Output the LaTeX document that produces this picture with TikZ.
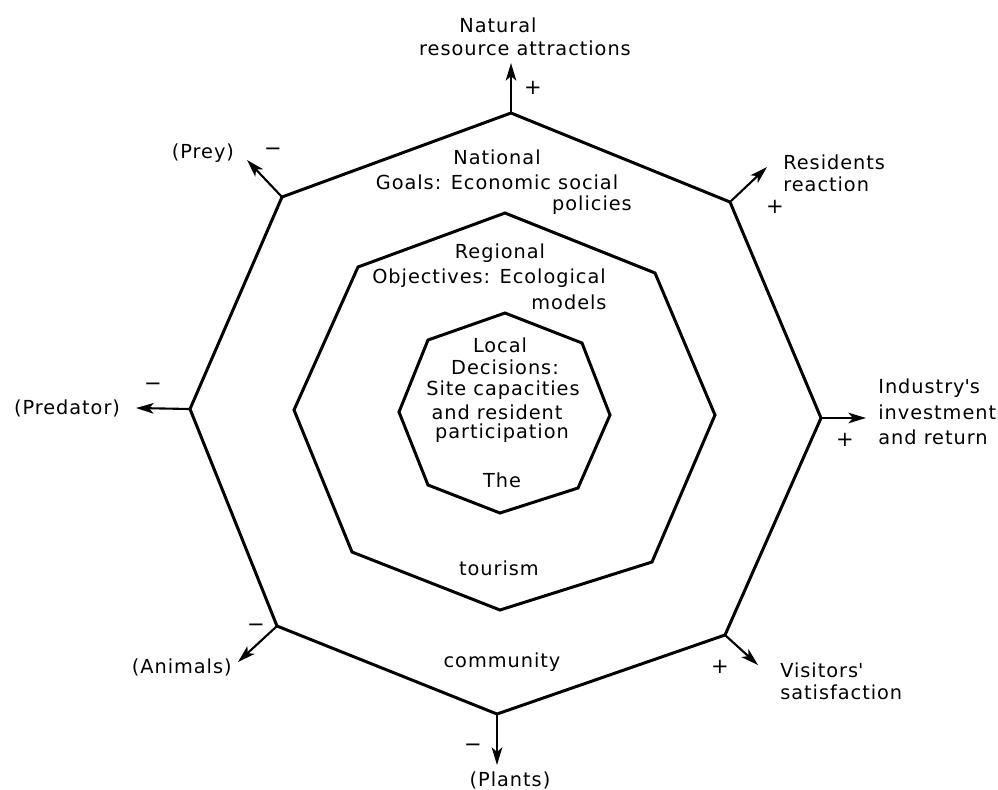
\documentclass[tikz,border=0pt]{standalone}
\usepackage{fontspec}
\setmainfont{DejaVu Sans}[LetterSpace=5.0]
\usetikzlibrary{arrows.meta}

\tikzset{
  ring/.style={line width=1.7pt, line join=miter},
  outarrow/.style={line width=1.2pt, -{Stealth[length=10pt,width=6pt,inset=2.5pt]}},
  lbl/.style={inner sep=0pt, font=\fontsize{11}{13}\selectfont},
  lblw/.style={lbl, anchor=west},
  sign/.style={inner sep=0pt, font=\fontsize{12}{13}\selectfont}
}

\begin{document}
\begin{tikzpicture}[x=0.02cm, y=-0.02cm]
\useasboundingbox (0,0) rectangle (998,789);

% outer ring: the tourism community
\coordinate (o1) at (511,113);
\coordinate (o2) at (730,202);
\coordinate (o3) at (821,418);
\coordinate (o4) at (725,635);
\coordinate (o5) at (497,714);
\coordinate (o6) at (277,626);
\coordinate (o7) at (190,409);
\coordinate (o8) at (282,197);
\draw[ring] (o1) -- (o2) -- (o3) -- (o4) -- (o5) -- (o6) -- (o7) -- (o8) -- cycle;

% middle ring: regional objectives
\coordinate (m1) at (505,213);
\coordinate (m2) at (655,273);
\coordinate (m3) at (715,415);
\coordinate (m4) at (652,562);
\coordinate (m5) at (500,610);
\coordinate (m6) at (352,552);
\coordinate (m7) at (294,410);
\coordinate (m8) at (358,267);
\draw[ring] (m1) -- (m2) -- (m3) -- (m4) -- (m5) -- (m6) -- (m7) -- (m8) -- cycle;

% inner ring: local decisions
\coordinate (i1) at (505,313);
\coordinate (i2) at (582,343);
\coordinate (i3) at (610,415);
\coordinate (i4) at (578,488);
\coordinate (i5) at (500,513);
\coordinate (i6) at (428,485);
\coordinate (i7) at (399,412);
\coordinate (i8) at (428,340);
\draw[ring] (i1) -- (i2) -- (i3) -- (i4) -- (i5) -- (i6) -- (i7) -- (i8) -- cycle;

% arrow ends
\coordinate (t1) at (511,63);
\coordinate (t2) at (767,167);
\coordinate (t3) at (866,418);
\coordinate (t4) at (758,665);
\coordinate (t5) at (497,765);
\coordinate (t6) at (238,662);
\coordinate (t7) at (136,408);
\coordinate (t8) at (247,160);
\foreach \k in {1,...,8} { \draw[outarrow] (o\k) -- (t\k); }

% outside labels
\node[lbl] (natural) at (498,25) {Natural};
\node[lbl] (resource) at (525,48) {resource attractions};
\node[sign] (s1) at (533,88) {+};

\node[lblw] (residents) at (783,162) {Residents};
\node[lblw] (reaction) at (783,184) {reaction};
\node[sign] (s2) at (775,207) {+};

\node[lblw] (industry) at (878,388) {Industry\textquotesingle s};
\node[lblw] (investment) at (878,412) {investment};
\node[lblw] (return) at (878,437) {and return};
\node[sign] (s3) at (845,440) {+};

\node[lblw] (visitors) at (780,670) {Visitors\textquotesingle};
\node[lblw] (satisfaction) at (780,692) {satisfaction};
\node[sign] (s4) at (720,667) {+};

\node[lbl] (plants) at (510,780) {(Plants)};
\node[sign] (s5) at (473,748) {−};

\node[lbl, anchor=east] (animals) at (232,667) {(Animals)};
\node[sign] (s6) at (256,628) {−};

\node[lbl] (predator) at (67,408) {(Predator)};
\node[sign] (s7) at (153,387) {−};

\node[lbl] (prey) at (203,153) {(Prey)};
\node[sign] (s8) at (273,152) {−};

% texts inside the rings
\node[lbl] (national) at (497,157) {National};
\node[lbl] (goals) at (497,182) {Goals: Economic social};
\node[lbl] (policies) at (592,205) {policies};

\node[lbl] (regional) at (500,253) {Regional};
\node[lbl] (objectives) at (489,278) {Objectives: Ecological};
\node[lbl] (models) at (569,302) {models};

\node[lbl] (local) at (500,345) {Local};
\node[lbl] (decisions) at (505,367) {Decisions:};
\node[lbl] (site) at (503,390) {Site capacities};
\node[lbl] (resident) at (497,412) {and resident};
\node[lbl] (participation) at (502,433) {participation};
\node[lbl] (the) at (502,480) {The};

\node[lbl] (tourism) at (499,568) {tourism};
\node[lbl] (community) at (502,662) {community};
\end{tikzpicture}
\end{document}
